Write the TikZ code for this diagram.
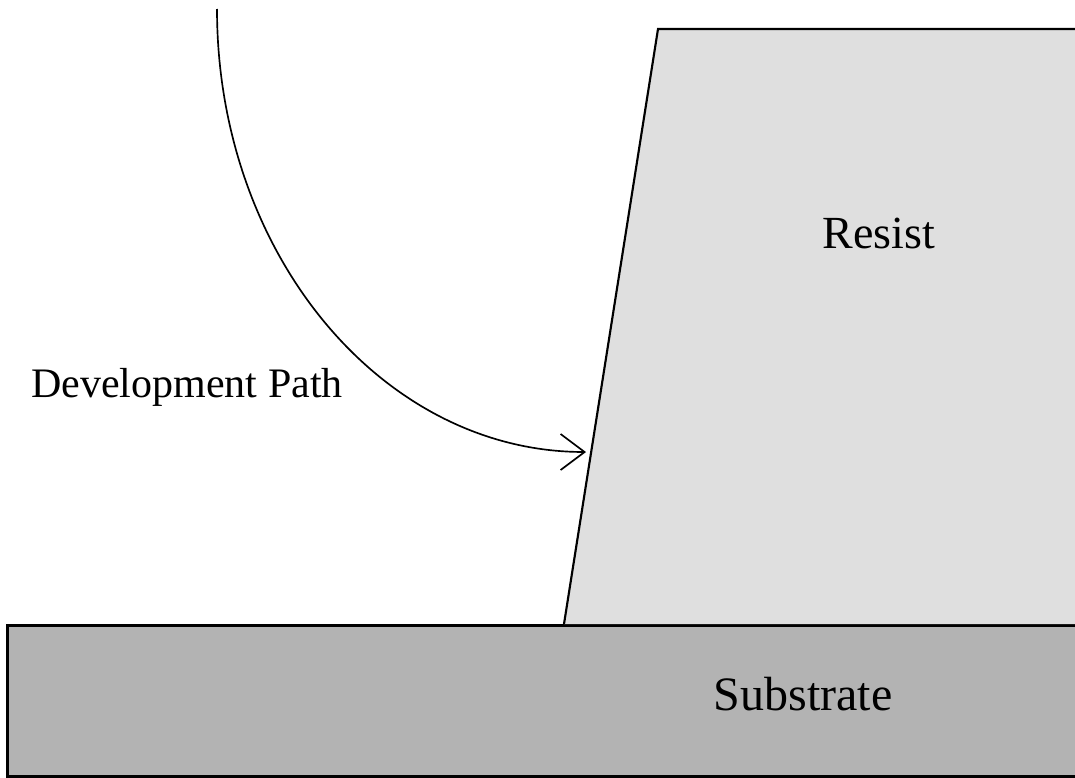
\documentclass[tikz,border=0pt]{standalone}
\usepackage{fontspec}
\setmainfont{Liberation Serif}
\usetikzlibrary{arrows.meta}
\definecolor{resistgray}{HTML}{DFDFDF}
\definecolor{substrategray}{HTML}{B3B3B3}

\begin{document}
\begin{tikzpicture}[x=0.75pt, y=-0.75pt,
		label text/.style={inner sep=0pt, anchor=base}]
			%%%%% START %%%%%
			
			\useasboundingbox (0,0) rectangle (1075,778);
			\clip (0,0) rectangle (1075,778);
			
			% substrate
			\draw[line width=2.2pt, fill=substrategray] (7.5,625.5) rectangle (1090,776.5);
			\node[label text, font=\fontsize{36}{43}\selectfont] (substrate) at (803,710) {Substrate};
			
			% resist
			\fill[resistgray] (564,624) -- (658,29) -- (1090,29) -- (1090,624) -- cycle;
			\draw[line width=1.6pt] (564,624) -- (658,29) -- (1090,29);
			\node[label text, font=\fontsize{34.5}{41}\selectfont] (resist) at (879,248) {Resist};
			
			% development path
			\coordinate (pathstart) at (217,9);
			\coordinate (pathend) at (586,452);
			\draw[line width=1.25pt, -{Straight Barb[length=18pt,width=27pt]}] (pathstart) .. controls (217,254) and (382,452) .. (pathend);
			\node[label text, font=\fontsize{31.5}{38}\selectfont] (pathlabel) at (187,397) {Development Path};
			
			%%%%% END %%%%%
		\end{tikzpicture}
\end{document}
